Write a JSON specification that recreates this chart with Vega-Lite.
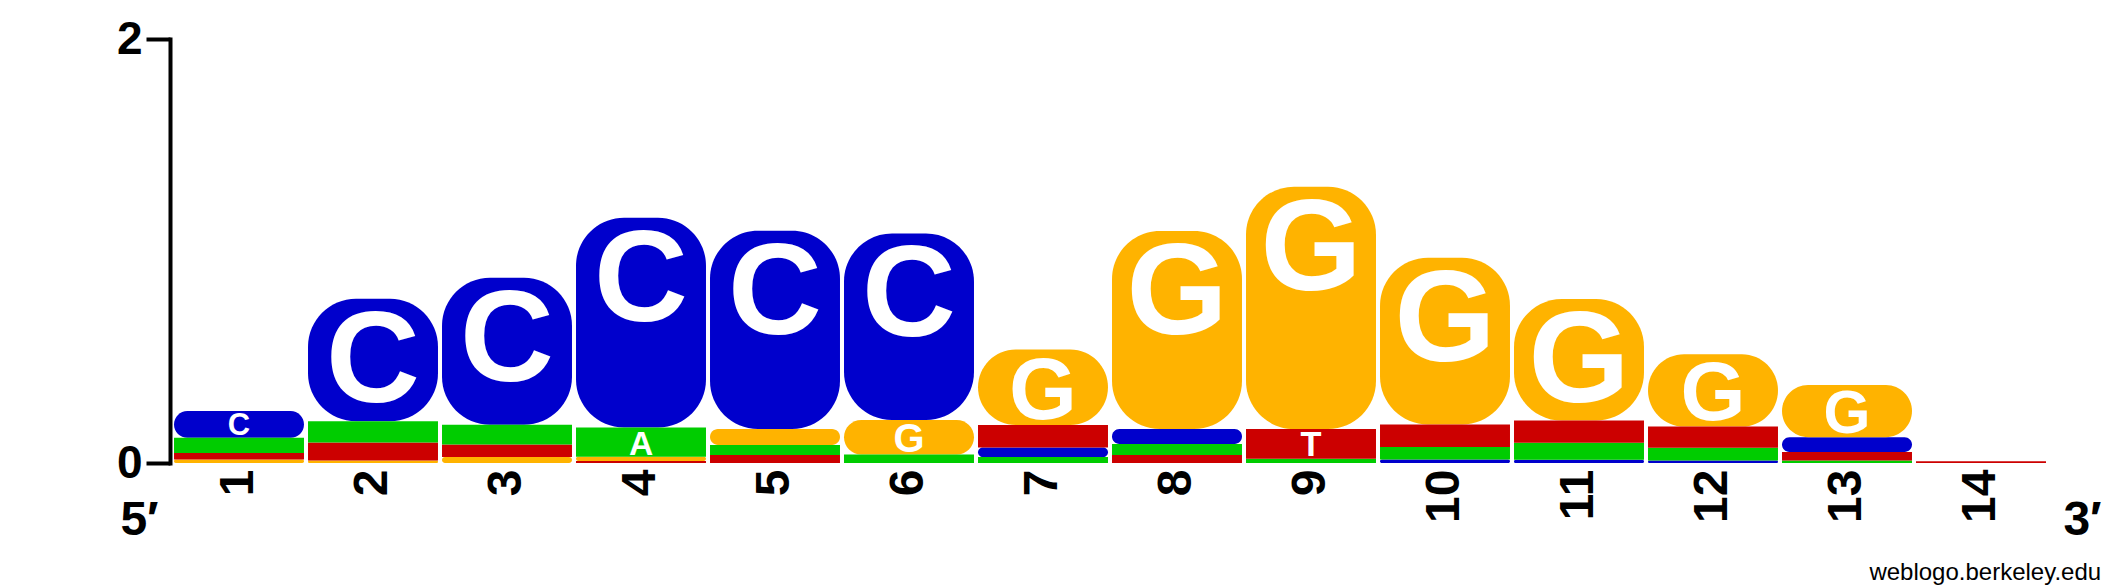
{
  "$schema": "https://vega.github.io/schema/vega-lite/v6.json",
  "width": 1876,
  "height": 424,
  "autosize": {"type": "none"},
  "padding": {"left": 172, "top": 39, "right": 77, "bottom": 125},
  "background": "white",
  "config": {"view": {"stroke": null}, "font": "Liberation Sans"},
  "title": {"text": "weblogo.berkeley.edu", "orient": "bottom", "anchor": "end", "frame": "bounds", "fontSize": 24, "fontWeight": "normal", "font": "Liberation Sans", "color": "black", "offset": 17},
  "data": {"values": [
    {"pos": 1, "base": "G", "bits": 0.016}, {"pos": 1, "base": "T", "bits": 0.031}, {"pos": 1, "base": "A", "bits": 0.072}, {"pos": 1, "base": "C", "bits": 0.126},
    {"pos": 2, "base": "G", "bits": 0.012}, {"pos": 2, "base": "T", "bits": 0.085}, {"pos": 2, "base": "A", "bits": 0.1}, {"pos": 2, "base": "C", "bits": 0.578},
    {"pos": 3, "base": "G", "bits": 0.028}, {"pos": 3, "base": "T", "bits": 0.059}, {"pos": 3, "base": "A", "bits": 0.094}, {"pos": 3, "base": "C", "bits": 0.693},
    {"pos": 4, "base": "T", "bits": 0.01}, {"pos": 4, "base": "G", "bits": 0.02}, {"pos": 4, "base": "A", "bits": 0.137}, {"pos": 4, "base": "C", "bits": 0.99},
    {"pos": 5, "base": "T", "bits": 0.038}, {"pos": 5, "base": "A", "bits": 0.047}, {"pos": 5, "base": "G", "bits": 0.075}, {"pos": 5, "base": "C", "bits": 0.936},
    {"pos": 6, "base": "A", "bits": 0.04}, {"pos": 6, "base": "G", "bits": 0.163}, {"pos": 6, "base": "C", "bits": 0.88},
    {"pos": 7, "base": "A", "bits": 0.028}, {"pos": 7, "base": "C", "bits": 0.045}, {"pos": 7, "base": "T", "bits": 0.106}, {"pos": 7, "base": "G", "bits": 0.356},
    {"pos": 8, "base": "T", "bits": 0.038}, {"pos": 8, "base": "A", "bits": 0.052}, {"pos": 8, "base": "C", "bits": 0.07}, {"pos": 8, "base": "G", "bits": 0.934},
    {"pos": 9, "base": "A", "bits": 0.02}, {"pos": 9, "base": "T", "bits": 0.14}, {"pos": 9, "base": "G", "bits": 1.143},
    {"pos": 10, "base": "C", "bits": 0.017}, {"pos": 10, "base": "A", "bits": 0.059}, {"pos": 10, "base": "T", "bits": 0.106}, {"pos": 10, "base": "G", "bits": 0.786},
    {"pos": 11, "base": "C", "bits": 0.015}, {"pos": 11, "base": "A", "bits": 0.08}, {"pos": 11, "base": "T", "bits": 0.105}, {"pos": 11, "base": "G", "bits": 0.574},
    {"pos": 12, "base": "C", "bits": 0.012}, {"pos": 12, "base": "A", "bits": 0.06}, {"pos": 12, "base": "T", "bits": 0.1}, {"pos": 12, "base": "G", "bits": 0.341},
    {"pos": 13, "base": "A", "bits": 0.012}, {"pos": 13, "base": "T", "bits": 0.04}, {"pos": 13, "base": "C", "bits": 0.07}, {"pos": 13, "base": "G", "bits": 0.246},
    {"pos": 14, "base": "T", "bits": 0.008}
  ]},
  "transform": [
    {"stack": "bits", "groupby": ["pos"], "sort": [{"field": "bits", "order": "ascending"}], "as": ["b0", "b1"]}
  ],
  "encoding": {
    "x": {
      "field": "pos", "type": "ordinal",
      "scale": {"paddingInner": 0.03, "paddingOuter": 0.015},
      "axis": {
        "title": "3′", "titleFontSize": 48, "titleFontWeight": "bold", "titleFont": "Liberation Sans", "titleColor": "black",
        "titleAngle": 0, "titleAlign": "center", "titleBaseline": "middle", "titleX": 1910, "titleY": 57, "titleAnchor": null,
        "domain": false, "ticks": false, "labelAngle": -90, "labelPadding": 6,
        "labelFontSize": 48, "labelFontWeight": "bold", "labelFont": "Liberation Sans", "labelColor": "black"
      }
    },
    "y": {
      "field": "b0", "type": "quantitative",
      "scale": {"domain": [0, 2], "nice": false, "zero": true},
      "axis": {
        "title": "5′", "titleFontSize": 48, "titleFontWeight": "bold", "titleFont": "Liberation Sans", "titleColor": "black",
        "titleAngle": 0, "titleAlign": "center", "titleBaseline": "middle", "titleX": -31, "titleY": 481, "titleAnchor": null,
        "values": [0, 1, 2], "format": "d", "offset": 2, "grid": false,
        "domainColor": "black", "domainWidth": 4, "domainCap": "square",
        "tickColor": "black", "tickWidth": 4, "tickSize": 24,
        "labelPadding": 4, "labelFontSize": 46, "labelFontWeight": "bold", "labelFont": "Liberation Sans", "labelColor": "black"
      }
    },
    "y2": {"field": "b1"},
    "color": {
      "field": "base", "type": "nominal",
      "scale": {"domain": ["A", "C", "G", "T"], "range": ["#00CC00", "#0000CC", "#FFB300", "#CC0000"]},
      "legend": null
    }
  },
  "layer": [
    {
      "transform": [{"filter": {"field": "base", "oneOf": ["C", "G"]}}],
      "mark": {"type": "bar", "cornerRadius": 48}
    },
    {
      "transform": [{"filter": {"field": "base", "oneOf": ["A", "T"]}}],
      "mark": {"type": "bar"}
    },
    {
      "transform": [{"filter": "datum.bits >= 0.12"}],
      "mark": {"type": "text", "color": "white", "fontWeight": "bold", "font": "Liberation Sans", "baseline": "top", "align": "center"},
      "encoding": {
        "y": {"field": "b1", "type": "quantitative"},
        "y2": null,
        "color": null,
        "text": {"field": "base"},
        "size": {"field": "bits", "type": "quantitative", "scale": {"domain": [0, 0.53], "range": [0, 130], "clamp": true}, "legend": null}
      }
    }
  ]
}
